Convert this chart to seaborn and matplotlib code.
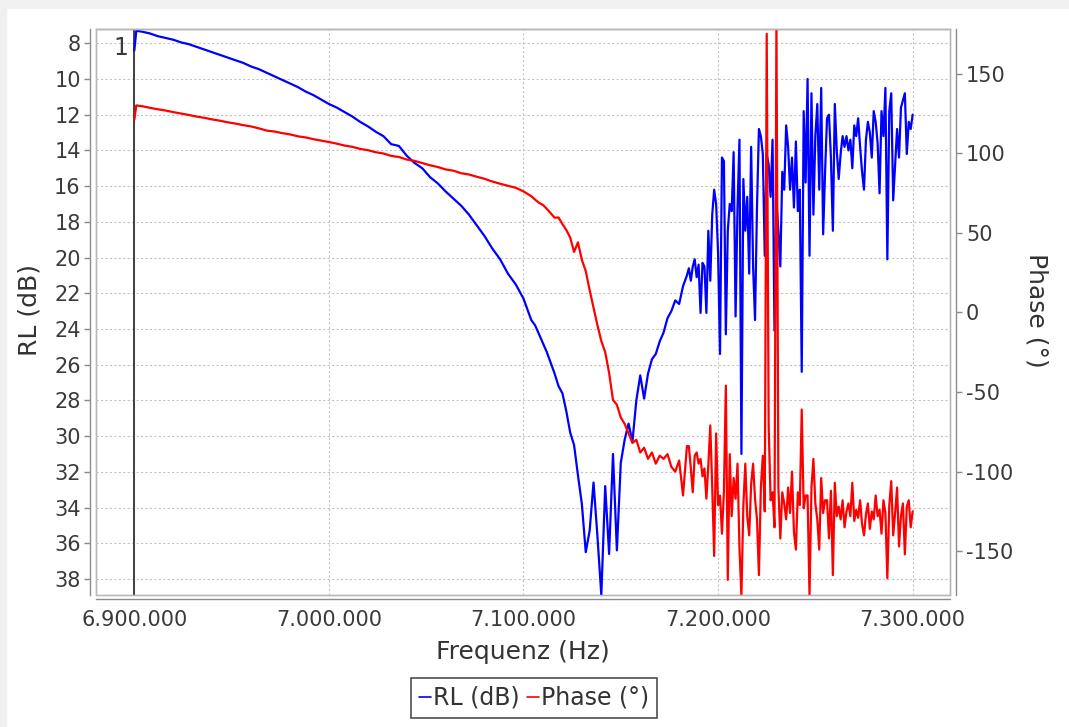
import numpy as np
import pandas as pd
import seaborn as sns
import matplotlib.pyplot as plt
from matplotlib.lines import Line2D
from matplotlib.patches import Rectangle
from matplotlib.ticker import FuncFormatter

# sweep frequencies in kHz (coarse where the curves are smooth, 1 kHz in the noisy part)
freq_a = [6900, 6901] + list(range(6904, 7101, 4))
freq_b = list(range(7102, 7185, 2))
freq_c = list(range(7185, 7301, 1))

rl_a = [8.4, 7.3, 7.35, 7.45, 7.6, 7.7, 7.8, 7.95, 8.05, 8.2, 8.35, 8.5, 8.65, 8.8, 8.95,
        9.1, 9.3, 9.45, 9.65, 9.85, 10.05, 10.25, 10.45, 10.7, 10.9, 11.15, 11.4, 11.6,
        11.85, 12.1, 12.4, 12.65, 12.95, 13.2, 13.65, 13.75, 14.3, 14.7, 15.0, 15.5, 15.85,
        16.3, 16.7, 17.1, 17.6, 18.2, 18.8, 19.5, 20.1, 20.9, 21.5, 22.3]
rl_b = [22.9, 23.5, 23.8, 24.3, 24.8, 25.3, 25.9, 26.5, 27.2, 27.6, 28.6, 29.8, 30.5, 32.2,
        33.8, 36.5, 35.3, 32.6, 35.6, 38.9, 32.8, 36.6, 31.0, 36.4, 31.5, 30.2, 29.3, 30.3,
        28.0, 26.6, 27.9, 26.5, 25.7, 25.4, 24.7, 24.2, 23.4, 23.0, 22.4, 22.6, 21.6, 21.0]
rl_c = [20.6, 21.3, 20.5, 20.1, 21.1, 20.4, 23.1, 20.3, 20.5, 23.1, 18.5, 21.3, 17.6, 16.2,
        17.0, 19.7, 25.4, 14.4, 14.6, 24.3, 18.5, 17.0, 17.4, 14.1, 23.3, 17.2, 13.4, 31.0,
        15.6, 18.5, 16.6, 20.9, 13.8, 20.5, 23.5, 17.2, 12.8, 13.2, 14.2, 19.9, 14.2, 14.8,
        16.6, 13.4, 24.1, 16.8, 18.5, 20.5, 15.2, 16.2, 12.6, 13.8, 16.2, 14.4, 17.2, 13.5,
        17.4, 16.2, 26.4, 11.8, 15.8, 10.0, 19.9, 10.8, 17.6, 13.2, 11.4, 16.2, 10.5, 18.7,
        15.2, 12.2, 12.0, 14.4, 18.5, 11.4, 14.0, 15.6, 14.2, 13.2, 13.8, 13.2, 14.0, 13.4,
        15.0, 12.6, 13.2, 12.2, 13.8, 15.2, 16.2, 13.4, 12.4, 13.0, 14.4, 11.8, 12.4, 13.6,
        16.4, 11.8, 13.2, 10.5, 20.1, 11.8, 10.8, 16.8, 14.8, 12.8, 14.4, 11.6, 11.2, 10.8,
        14.2, 12.4, 12.8, 12.0]

phase_a = [121, 130, 129.5, 128.5, 127.6, 126.8, 125.8, 124.9, 124.0, 123.0, 122.2, 121.2,
           120.4, 119.4, 118.6, 117.6, 116.8, 115.6, 114.2, 113.6, 112.6, 111.8, 110.6,
           109.9, 108.8, 107.9, 107.0, 106.0, 104.8, 104.0, 102.7, 101.9, 100.6, 99.8, 98.3,
           97.6, 96.0, 95.2, 93.8, 92.4, 91.3, 89.8, 89.0, 87.4, 86.6, 85.2, 83.9, 82.2,
           80.8, 79.5, 78.3, 76.0]
phase_b = [74.5, 73.0, 70.8, 68.8, 67.5, 65.0, 62.3, 59.5, 59.6, 55.5, 51.8, 47.0, 38.0,
           44.0, 33.0, 26.0, 14.0, 3.0, -8.0, -18.0, -25.0, -38.0, -55.0, -58.0, -66.0,
           -70.0, -76.0, -82.0, -80.0, -88.0, -85.0, -92.0, -88.0, -95.0, -90.0, -92.0,
           -89.0, -97.0, -100.0, -93.0, -115.0, -84.0]
phase_c = [-84, -98, -113, -90, -88, -95, -92, -103, -98, -117, -96, -71, -110, -153, -76,
           -121, -115, -139, -113, -46, -168, -89, -128, -104, -117, -95, -148, -178, -121,
           -95, -128, -140, -108, -95, -117, -130, -165, -110, -90, -125, 175, -71, -118,
           -113, -135, 185, -110, -142, -113, -120, -130, -110, -126, -100, -138, -149, -113,
           -121, -61, -123, -115, -115, -178, -110, -92, -120, -130, -149, -104, -126, -118,
           -118, -142, -112, -165, -107, -128, -122, -130, -118, -135, -125, -120, -128,
           -107, -131, -124, -129, -118, -133, -140, -127, -120, -136, -125, -130, -115,
           -128, -124, -139, -118, -126, -167, -121, -106, -140, -126, -110, -147, -128,
           -120, -152, -122, -118, -135, -125]

df = pd.DataFrame({
    "freq": np.array(freq_a + freq_b + freq_c) * 1000.0,
    "rl": rl_a + rl_b + rl_c,
    "phase": phase_a + phase_b + phase_c,
})

sns.set_style("white")
plt.rcParams["font.family"] = ["DejaVu Sans"]
plt.rcParams["axes.unicode_minus"] = False
txt = "#3a3a3a"

fig = plt.figure(figsize=(10.69, 7.27), dpi=100)
fig.patches.append(Rectangle((0, 1 - 8 / 727), 1, 8 / 727, transform=fig.transFigure,
                             color="#f0f0f0", zorder=0))
fig.patches.append(Rectangle((0, 0), 6 / 1069, 1, transform=fig.transFigure,
                             color="#f0f0f0", zorder=0))

ax = fig.add_axes([96 / 1069, 132 / 727, 854 / 1069, 566 / 727])
ax2 = ax.twinx()

sns.lineplot(data=df, x="freq", y="rl", ax=ax, color="#0000ff", lw=1.6,
             estimator=None, sort=False)
sns.lineplot(data=df, x="freq", y="phase", ax=ax2, color="#ff0000", lw=1.6,
             estimator=None, sort=False)

ax.set_xlim(6880300, 7319200)
ax.set_ylim(38.9, 7.2)
ax2.set_ylim(-177.5, 178)

ax.set_xticks([6900000, 7000000, 7100000, 7200000, 7300000])
ax.xaxis.set_major_formatter(FuncFormatter(lambda v, p: f"{v:,.0f}".replace(",", ".")))
ax.set_yticks(range(8, 39, 2))
ax2.set_yticks([-150, -100, -50, 0, 50, 100, 150])

ax.grid(True, color="#c4c4c4", lw=0.8, ls=(0, (2, 2)))
ax.set_xlabel("")
ax.set_ylabel("")
ax2.set_ylabel("")

# marker at the start frequency
ax.axvline(6900000, color="#404040", lw=1.4, zorder=1)
fig.text(121 / 1069, 1 - 48 / 727, "1", fontsize=17, color=txt, ha="center", va="center")

for a in (ax, ax2):
    for s in a.spines.values():
        s.set_color("#b8b8b8")
        s.set_linewidth(1.0)
    a.tick_params(labelsize=15, colors="#888888", labelcolor=txt, length=4, width=1)
ax.spines["left"].set_position(("outward", 4))
ax.spines["bottom"].set_position(("outward", 3))
ax2.spines["right"].set_position(("outward", 4))
ax.spines["left"].set_color("#8c8c8c")
ax.spines["bottom"].set_color("#8c8c8c")
ax2.spines["right"].set_color("#8c8c8c")
ax.patch.set_edgecolor("#c0c0c0")
ax.patch.set_linewidth(1.0)
ax.tick_params(axis="x", pad=4)
ax.tick_params(axis="y", pad=3)

fig.text(30 / 1069, 1 - 310 / 727, "RL (dB)", rotation=90, fontsize=18, color="#333333",
         ha="center", va="center")
fig.text(1037 / 1069, 1 - 310 / 727, "Phase (°)", rotation=270, fontsize=18, color="#333333",
         ha="center", va="center")
fig.text(523 / 1069, 1 - 652 / 727, "Frequenz (Hz)", fontsize=18, color="#333333",
         ha="center", va="center")

handles = [Line2D([], [], color="#0000ff", lw=1.2), Line2D([], [], color="#ff0000", lw=1.2)]
leg = fig.legend(handles, ["RL (dB)", "Phase (°)"], loc="center",
                 bbox_to_anchor=(534 / 1069, 1 - 698 / 727), ncol=2, fontsize=17,
                 frameon=True, fancybox=False, edgecolor="#222222", handlelength=0.5,
                 handletextpad=0.1, columnspacing=0.3, borderpad=0.35, labelcolor="#333333")
leg.get_frame().set_linewidth(1.2)

fig.savefig("out.png", dpi=100)
